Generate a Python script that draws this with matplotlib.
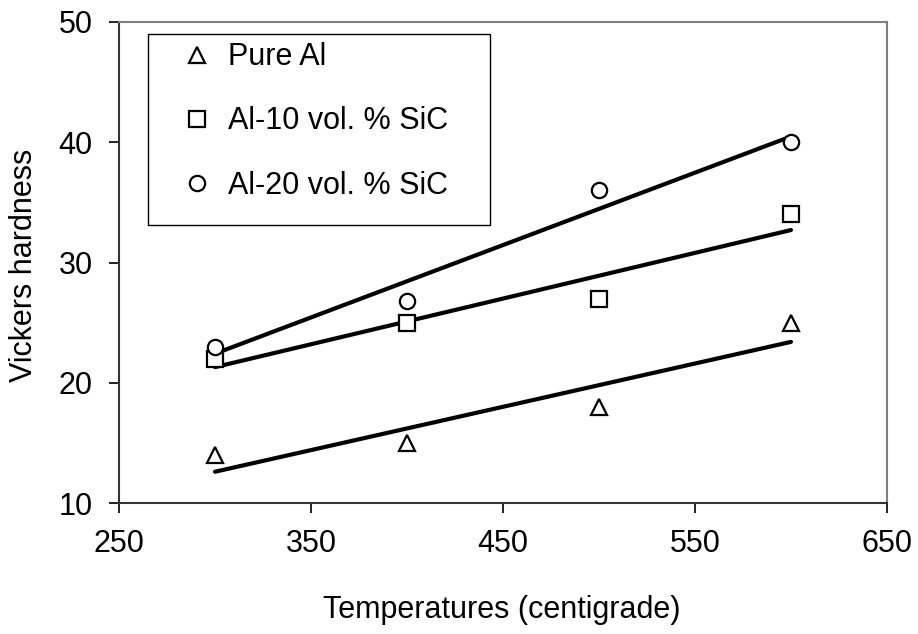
import numpy as np
from matplotlib import pyplot as plt
from matplotlib.patches import Rectangle

plt.rcParams['font.family'] = ['Liberation Sans', 'DejaVu Sans']

temps = [300, 400, 500, 600]
pure_al = [14, 15, 18, 25]
al_10 = [22, 25, 27, 34]
al_20 = [23, 26.8, 36, 40]

series = [
    ('Pure Al', pure_al, '^'),
    ('Al-10 vol. % SiC', al_10, 's'),
    ('Al-20 vol. % SiC', al_20, 'o'),
]

fs = 22

fig = plt.figure(figsize=(9.18, 6.34), dpi=100)
ax = fig.add_axes([0.1296, 0.2066, 0.9662 - 0.1296, 0.9653 - 0.2066])

x = np.array(temps)
for label, vals, mk in series:
    ax.plot(x, vals, linestyle='none', marker=mk, markersize=11,
            markerfacecolor='white', markeredgecolor='black',
            markeredgewidth=1.6, label=label, zorder=3)
    # linear trend line
    k, b = np.polyfit(x, vals, 1)
    ax.plot(x[[0, -1]], k * x[[0, -1]] + b, color='black', lw=3,
            solid_capstyle='round', zorder=2)

ax.set_xlim(250, 650)
ax.set_ylim(10, 50)
ax.set_xticks([250, 350, 450, 550, 650])
ax.set_yticks([10, 20, 30, 40, 50])
ax.tick_params(direction='out', length=7, width=1.2, labelsize=fs, pad=12)

for s in ['top', 'right']:
    ax.spines[s].set_color('#808080')
    ax.spines[s].set_linewidth(1.5)
for s in ['left', 'bottom']:
    ax.spines[s].set_color('#333333')
    ax.spines[s].set_linewidth(1.5)

ax.set_xlabel('Temperatures (centigrade)', fontsize=fs)
ax.set_ylabel('Vickers hardness', fontsize=fs)
ax.xaxis.set_label_coords(0.498, -0.191)
ax.yaxis.set_label_coords(-0.104, 0.493)

# legend box
ax.add_patch(Rectangle((0.0378, 0.578), 0.483 - 0.0378, 0.975 - 0.578,
                       transform=ax.transAxes, facecolor='white',
                       edgecolor='black', lw=1.0, zorder=4))
leg = ax.legend(loc='upper left', bbox_to_anchor=(0.082, 0.958), fontsize=fs,
                frameon=False, labelspacing=1.12, borderpad=0,
                handlelength=1.0, handletextpad=0.5, borderaxespad=0)
leg.set_zorder(5)

plt.savefig('out.png', dpi=100)
